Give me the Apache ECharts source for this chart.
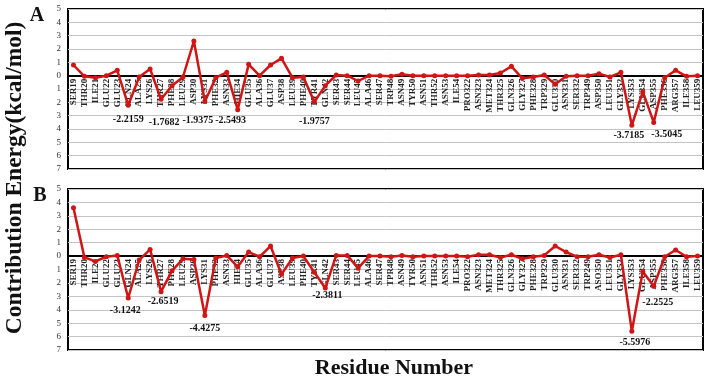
<!DOCTYPE html>
<html>
<head>
<meta charset="utf-8">
<script src="https://cdn.jsdelivr.net/npm/echarts@6/dist/echarts.min.js"></script>
<style>
  html, body { margin: 0; padding: 0; background: #fff; }
  #chart { width: 708px; height: 383px; }
</style>
</head>
<body>
<div id="chart"></div>
<script>
// residue names as printed under each panel
var residuesA = ['SER19','THR20','ILE21','GLU22','GLU23','GLN24','ALA25','LYS26','THR27','PHE28','LEU29','ASP30','LYS31','PHE32','ASN33','HIE34','GLU35','ALA36','GLU37','ASP38','LEU39','PHE40','TYR41','GLN42','SER43','SER44','LEU45','ALA46','SER47','TRP48','ASN49','TYR50','ASN51','THR52','ASN53','ILE54','PRO322','ASN323','MET324','THR325','GLN326','GLY327','PHE328','TRP329','GLU330','ASN331','SER332','TRP349','ASP350','LEU351','GLY352','LYS353','GLU354','ASP355','PHE356','ARG357','ILE358','LEU359'];
var residuesB = ['SER19','THR20','ILE21','GLU22','GLU23','GLN24','ALA25','LYS26','THR27','PHE28','LEU29','ASP30','LYS31','PHE32','ASN33','HIE34','GLU35','ALA36','GLU37','ASP38','LEU39','PHE40','TYR41','GLN42','SER43','SER44','LEU45','ALA46','SER47','TPR48','ASN49','TYR50','ASN51','THR52','ASN53','ILE54','PRO322','ASN323','MET324','THR325','GLN326','GLY327','PHE328','TRP329','GLU330','ASN331','SER332','TRP249','ASO350','LEU351','GLY352','LYS353','GLU354','ASP355','PHE356','ARG357','ILE358','LEU359'];

// contribution energy (kcal/mol)
var energyA = [0.8,-0.05,-0.15,0,0.4,-2.2159,-0.1,0.5,-1.7682,-0.75,-0.1,2.6,-1.9375,-0.15,0.25,-2.5493,0.85,0,0.8,1.3,-0.15,-0.1,-1.9757,-0.75,0.05,0,-0.4,0,0,-0.05,0.1,0,0,0,0,0,0,0.05,0.05,0.2,0.7,-0.2,-0.1,0.05,-0.65,-0.05,0,0,0.15,-0.1,0.25,-3.7185,-1.2,-3.5045,-0.15,0.4,-0.05,0];
var energyB = [3.6,-0.1,-0.4,-0.05,0.05,-3.1242,-0.3,0.5,-2.6519,-1.1,-0.2,-0.25,-4.4275,-0.15,0.05,-0.8,0.3,-0.05,0.75,-1.35,-0.15,0,-1.2,-2.3811,0.05,0.05,-0.9,0,0,-0.05,0.05,-0.05,0,0,0,0,-0.05,0.1,0.1,-0.1,0.1,-0.2,-0.05,0.05,0.75,0.3,-0.05,-0.05,0.1,-0.1,0.1,-5.5976,-1.15,-2.2525,-0.05,0.45,-0.05,0];

// which points carry a value label, and where the label sits
var labelsA = {5:[0,14], 8:[3,23], 12:[-7,19], 15:[-7,11], 22:[0,19], 51:[-3,10], 53:[13,12]};
var labelsB = {5:[-3,12], 8:[2,10], 12:[0,13], 23:[2,7], 51:[3,11], 53:[4,16]};

var serif = "'Liberation Serif', 'Times New Roman', serif";
var red = '#d01515';

function withLabels(values, labels){
    return values.map(function(v, i){
        if (!labels[i]) return v;
        return {
            value: v,
            label: {
                show: true,
                position: 'inside',
                offset: labels[i],
                formatter: function(p){ return p.value.toFixed(4); },
                fontFamily: serif,
                fontWeight: 'bold',
                fontSize: 10,
                color: '#111'
            }
        };
    });
}

// axis sits on the zero line: pulled up from the grid bottom
function xAxisFor(idx, names, lift){
    return {
        type: 'category',
        gridIndex: idx,
        data: names,
        boundaryGap: true,
        offset: -lift,
        axisLine: { onZero: false, lineStyle: { color: '#000', width: 2 } },
        axisTick: { show: false },
        axisLabel: {
            interval: 0,
            rotate: 90,
            margin: 3,
            fontFamily: serif,
            fontWeight: 'bold',
            fontSize: 9,
            color: '#222'
        }
    };
}

function yAxisFor(idx){
    return {
        type: 'value',
        gridIndex: idx,
        min: -7,
        max: 5,
        interval: 1,
        axisLine: { show: false },
        axisTick: { show: false },
        axisLabel: {
            margin: 7,
            fontFamily: serif,
            fontSize: 9,
            color: '#333',
            formatter: function(v){ return Math.abs(v); }
        },
        splitLine: { lineStyle: { color: '#c4c4c4', width: 1 } }
    };
}

function seriesFor(idx, values, labels){
    return {
        type: 'line',
        xAxisIndex: idx,
        yAxisIndex: idx,
        data: withLabels(values, labels),
        symbol: 'circle',
        symbolSize: 5,
        lineStyle: { color: red, width: 2.5 },
        itemStyle: { color: red },
        label: { show: false },
        z: 3,
        animation: false
    };
}

var myChart = echarts.init(document.getElementById('chart'));
myChart.setOption({
    backgroundColor: '#fff',
    grid: [
        { left: 68, right: 5, top: 9, height: 160, show: true, borderColor: '#000', borderWidth: 2 },
        { left: 68, right: 5, top: 189, height: 161, show: true, borderColor: '#000', borderWidth: 2 }
    ],
    xAxis: [xAxisFor(0, residuesA, 160 * 7 / 12), xAxisFor(1, residuesB, 161 * 7 / 12)],
    yAxis: [yAxisFor(0), yAxisFor(1)],
    series: [seriesFor(0, energyA, labelsA), seriesFor(1, energyB, labelsB)],
    graphic: [
        { type: 'text', x: 37, y: 16, style: { text: 'A', font: 'bold 20px ' + serif, fill: '#111', textAlign: 'center', textVerticalAlign: 'middle' } },
        { type: 'text', x: 40, y: 196, style: { text: 'B', font: 'bold 20px ' + serif, fill: '#111', textAlign: 'center', textVerticalAlign: 'middle' } },
        { type: 'text', x: 15, y: 178, rotation: Math.PI / 2, style: { text: 'Contribution Energy(kcal/mol)', font: 'bold 23.5px ' + serif, fill: '#111', textAlign: 'center', textVerticalAlign: 'middle' } },
        { type: 'text', x: 394, y: 368, style: { text: 'Residue Number', font: 'bold 22px ' + serif, fill: '#111', textAlign: 'center', textVerticalAlign: 'middle' } }
    ]
});
</script>
</body>
</html>
